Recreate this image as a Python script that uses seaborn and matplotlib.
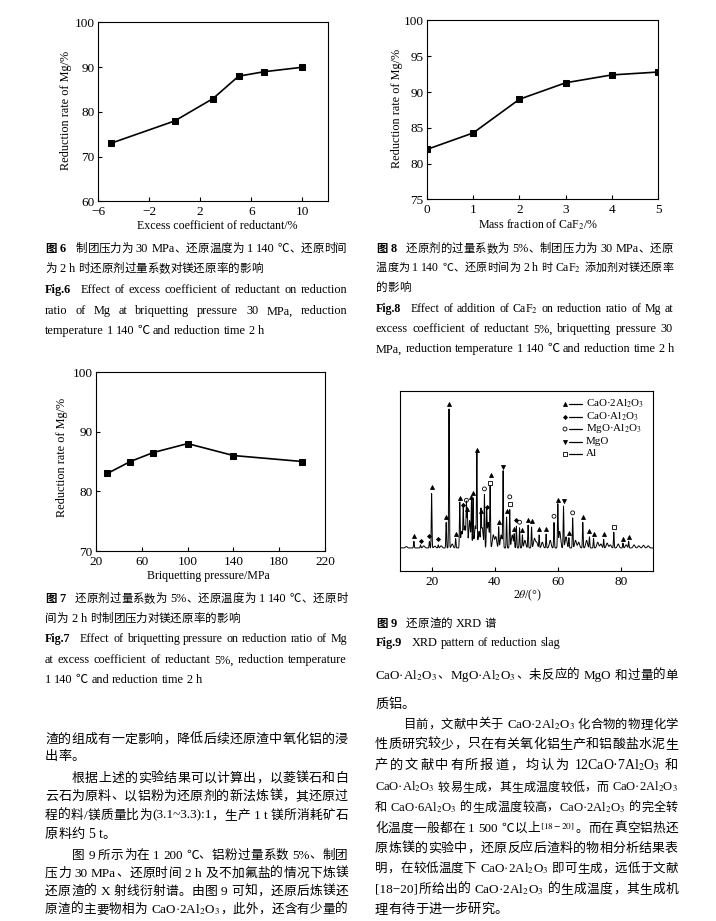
import numpy as np
import pandas as pd
import matplotlib
matplotlib.use("Agg")
import matplotlib.pyplot as plt
import seaborn as sns

# ---------------- data ----------------
excess_coef = [-5, 0, 3, 5, 7, 10]
rate_excess = [73, 78, 83, 88, 89, 90]

caf2_frac = [0, 1, 2, 3, 4, 5]
rate_caf2 = [82.0, 84.3, 89.0, 91.3, 92.4, 92.8]

pressure = [30, 50, 70, 100, 140, 200]
rate_pressure = [83.0, 85.0, 86.5, 88.0, 86.0, 85.0]

# XRD main peaks: position (2theta), top intensity
xrd_peak_pos = [14.4, 16.5, 19.3, 20.0, 22.1, 24.6, 25.5, 27.6, 28.9, 30.0, 31.0, 31.3,
                32.6, 33.1, 34.3, 35.6, 36.7, 37.4, 38.5, 41.2, 42.6, 43.7, 44.7, 46.1,
                46.8, 47.8, 48.7, 50.5, 51.6, 54.0, 56.2, 58.7, 59.9, 61.7, 63.4, 64.6,
                67.8, 69.9, 71.2, 74.4, 77.6, 80.5, 82.3]
xrd_peak_int = [16.5, 14.5, 16.5, 43.0, 14.5, 27.0, 90.0, 18.0, 37.5, 33.0, 36.0, 31.0,
                38.0, 40.0, 64.0, 30.0, 42.0, 32.0, 46.0, 24.5, 55.0, 30.0, 34.0, 20.0,
                25.0, 24.0, 20.0, 25.5, 24.5, 20.0, 20.5, 27.0, 36.5, 36.0, 18.5, 29.5,
                27.0, 19.0, 18.0, 17.5, 21.5, 15.5, 16.5]
# XRD minor humps (background texture)
xrd_minor_pos = [12.0, 17.5, 21.0, 23.0, 26.5, 29.5, 30.5, 32.0, 33.8, 35.0, 36.0, 37.9,
                 39.5, 40.3, 42.0, 45.5, 49.5, 52.5, 53.2, 55.0, 57.5, 60.5, 62.5, 65.5,
                 66.5, 69.0, 72.5, 73.5, 75.5, 76.5, 79.0, 81.5, 84.0, 85.5, 87.0, 88.5]
xrd_minor_int = [13.6, 14.0, 13.8, 14.0, 15.0, 22.0, 25.0, 28.0, 25.0, 22.0, 24.0, 27.0,
                 20.0, 19.0, 20.0, 20.0, 17.0, 18.0, 16.0, 16.0, 17.0, 22.0, 19.0, 17.0,
                 16.0, 17.0, 16.0, 15.0, 15.5, 14.5, 15.0, 14.5, 14.5, 14.0, 14.3, 14.0]
xrd_baseline = 12.8

phase_names = ["CaO·2Al$_2$O$_3$", "CaO·Al$_2$O$_3$", "MgO·Al$_2$O$_3$", "MgO", "Al"]
phase_x = [
    [14.4, 20.0, 24.5, 25.5, 27.6, 28.9, 31.2, 32.6, 33.1, 34.3, 35.6, 38.7, 41.2, 43.7,
     46.1, 48.7, 50.5, 51.6, 54.0, 56.2, 59.9, 63.4, 67.8, 69.9, 71.2, 74.4, 80.5, 82.3],
    [16.5, 19.3, 22.1, 30.0, 37.4, 46.8],
    [31.0, 36.7, 44.7, 47.8, 58.7, 64.6],
    [42.6, 61.7],
    [38.5, 44.7, 77.6],
]
phase_y = [
    [19.3, 46.8, 30.1, 93.0, 20.4, 40.8, 34.5, 41.2, 43.4, 67.2, 33.4, 53.2, 27.5, 33.4,
     23.4, 23.0, 28.6, 27.6, 23.2, 23.6, 39.3, 21.2, 30.1, 22.1, 20.8, 20.4, 17.6, 18.9],
    [16.5, 19.3, 17.6, 36.7, 35.3, 28.6],
    [39.3, 45.6, 41.2, 27.1, 30.4, 32.3],
    [57.9, 39.0],
    [49.0, 37.1, 24.5],
]
phase_markers = ["^", "D", "o", "v", "s"]

# ---------------- setup ----------------
sns.set_theme(style="ticks")
plt.rcParams["font.family"] = ["Liberation Serif", "Noto Sans CJK SC", "DejaVu Sans"]
plt.rcParams["mathtext.fontset"] = "stix"
plt.rcParams["axes.unicode_minus"] = True

W, H = 716, 921
fig = plt.figure(figsize=(W / 100, H / 100), dpi=100)
fig.patch.set_facecolor("white")
renderer = fig.canvas.get_renderer()


def add_ax(l, t, r, b):
    ax = fig.add_axes([l / W, 1 - b / H, (r - l) / W, (b - t) / H])
    ax.set_facecolor("white")
    for s in ax.spines.values():
        s.set_visible(True)
        s.set_color("black")
        s.set_linewidth(0.8)
    ax.tick_params(direction="in", length=3, width=0.8, colors="black",
                   labelsize=9.5, top=False, right=False)
    ax.tick_params(axis="x", pad=3.5)
    ax.tick_params(axis="y", pad=2.5)
    ax.grid(False)
    return ax


def labels(ax, xl, yl, xpos, ypos):
    ax.set_xlabel(xl, fontsize=8.6, color="black")
    ax.xaxis.set_label_coords(*xpos)
    ax.xaxis.label.set_va("center")
    if yl:
        ax.set_ylabel(yl, fontsize=8.8, color="black")
        ax.yaxis.set_label_coords(*ypos)
        ax.yaxis.label.set_va("center")
    else:
        ax.set_ylabel("")


line_kw = dict(color="black", marker="s", markersize=4.2, linewidth=1.2,
               markeredgecolor="black", markerfacecolor="black")

# Fig 6
ax6 = add_ax(98, 22.5, 328, 201.5)
sns.lineplot(data=pd.DataFrame({"x": excess_coef, "y": rate_excess}), x="x", y="y",
             ax=ax6, **line_kw)
ax6.set_xlim(-6, 12)
ax6.set_ylim(60, 100)
ax6.set_xticks([-6, -2, 2, 6, 10])
ax6.set_yticks([60, 70, 80, 90, 100])
labels(ax6, "Excess coefficient of reductant/%", "Reduction rate of Mg/%",
       (0.517, -0.137), (-0.139, 0.51))

# Fig 8
ax8 = add_ax(427, 20.5, 658, 199.5)
sns.lineplot(data=pd.DataFrame({"x": caf2_frac, "y": rate_caf2}), x="x", y="y",
             ax=ax8, **line_kw)
ax8.set_xlim(0, 5)
ax8.set_ylim(75, 100)
ax8.set_xticks([0, 1, 2, 3, 4, 5])
ax8.set_yticks([75, 80, 85, 90, 95, 100])
labels(ax8, "Mass fraction of CaF$_2$/%", "Reduction rate of Mg/%",
       (0.48, -0.142), (-0.13, 0.51))

# Fig 7
ax7 = add_ax(96, 372, 325, 551)
sns.lineplot(data=pd.DataFrame({"x": pressure, "y": rate_pressure}), x="x", y="y",
             ax=ax7, **line_kw)
ax7.set_xlim(20, 220)
ax7.set_ylim(70, 100)
ax7.set_xticks([20, 60, 100, 140, 180, 220])
ax7.set_yticks([70, 80, 90, 100])
labels(ax7, "Briquetting pressure/MPa", "Reduction rate of Mg/%",
       (0.489, -0.14), (-0.148, 0.525))

# Fig 9 (XRD)
ax9 = add_ax(400, 391, 653, 571)
tt = np.linspace(10, 90, 3000)
inten = np.full_like(tt, xrd_baseline)
for p, h in zip(xrd_peak_pos, xrd_peak_int):
    inten += (h - xrd_baseline) * np.exp(-0.5 * ((tt - p) / 0.11) ** 2)
for p, h in zip(xrd_minor_pos, xrd_minor_int):
    inten += (h - xrd_baseline) * np.exp(-0.5 * ((tt - p) / 0.28) ** 2)
sns.lineplot(data=pd.DataFrame({"t": tt, "i": inten}), x="t", y="i", ax=ax9,
             color="black", linewidth=0.7)
for mk, xs, ys in zip(phase_markers, phase_x, phase_y):
    ax9.scatter(xs, ys, marker=mk, s=8 if mk != "D" else 4,
                facecolors="black" if mk in "^Dv" else "none",
                edgecolors="black", linewidths=0.6, zorder=3)
ax9.set_xlim(10, 90)
ax9.set_ylim(0, 100)
ax9.set_xticks([20, 40, 60, 80])
ax9.set_yticks([])
labels(ax9, r"2$\theta$/(°)", None, (0.506, -0.133), None)

# legend drawn by hand in axes fraction
leg_rows = [404, 417, 429, 442, 454]
for mk, name, yy in zip(phase_markers, phase_names, leg_rows):
    ya = (571 - yy) / 180
    ax9.scatter([(565 - 400) / 253], [ya], transform=ax9.transAxes, marker=mk,
                s=8 if mk != "D" else 4,
                facecolors="black" if mk in "^Dv" else "none",
                edgecolors="black", linewidths=0.6, zorder=3, clip_on=False)
    ax9.plot([(569 - 400) / 253, (582 - 400) / 253], [ya, ya], transform=ax9.transAxes,
             color="black", linewidth=0.9)
    ax9.text((586 - 400) / 253, ya + 0.004, name, transform=ax9.transAxes, fontsize=7.9,
             va="center", ha="left", color="black")


# ---------------- text layout ----------------
def tokenize(s):
    toks = []
    cur = ""
    sp = 0
    math = False
    for c in s:
        if math:
            cur += c
            if c == "$":
                math = False
            continue
        if c == "$":
            cur += c
            math = True
            continue
        if c == " ":
            if cur:
                toks.append([cur, sp])
                cur = ""
                sp = 0
            sp += 1
            continue
        if ord(c) < 128 or c in "·°−":
            cur += c
        else:
            if cur:
                toks.append([cur, sp])
                cur = ""
                sp = 0
            toks.append([c, sp])
            sp = 0
    if cur:
        toks.append([cur, sp])
    return toks


def tline(x0, yc, segs, x1=None, size=9.5, lat=1.0):
    toks = []
    for s, w in segs:
        for t, sp in tokenize(s):
            toks.append((t, sp, w))
    em = size * 100 / 72
    yb = yc + 0.36 * em
    objs = []
    for t, sp, w in toks:
        fs = size * lat if ord(t[0]) < 128 else size
        o = fig.text(0, 1 - yb / H, t, fontsize=fs, fontweight=w, va="baseline",
                     ha="left", color="black")
        objs.append((o, fs, sp))

    def measure(scale):
        ws = []
        for o, fs, sp in objs:
            o.set_fontsize(fs * scale)
            ws.append(o.get_window_extent(renderer).width)
        return ws

    ws = measure(1.0)
    space = 0.25 * em * lat
    nat = sum(ws) + sum(sp * space for _, _, sp in objs[1:])
    if x1 is not None and nat > (x1 - x0):
        sc = (x1 - x0) / nat * 0.99
        ws = measure(sc)
        space *= sc
        nat = sum(ws) + sum(sp * space for _, _, sp in objs[1:])
    extra = 0.0
    if x1 is not None and len(objs) > 1:
        extra = max(0.0, (x1 - x0 - nat) / (len(objs) - 1))
    x = x0
    for i, (o, fs, sp) in enumerate(objs):
        if i > 0:
            x += sp * space + extra
        o.set_x(x / W)
        x += ws[i]


N = "normal"
B = "bold"
cs = 8.3   # Chinese caption size
es = 8.8   # English caption size
cl = 1.08  # latin scale in Chinese captions

# Fig 6 caption
tline(45, 248, [("图 6", B), ("   制团压力为 30 MPa、还原温度为 1 140 ℃、还原时间", N)], 347, cs, cl)
tline(45, 268, [("为 2 h 时还原剂过量系数对镁还原率的影响", N)], None, cs, cl)
tline(45, 289, [("Fig.6", B), ("   Effect of excess coefficient of reductant on reduction", N)], 347, es)
tline(45, 310, [("ratio of Mg at briquetting pressure 30 MPa, reduction", N)], 347, es)
tline(45, 330, [("temperature 1 140 ℃ and reduction time 2 h", N)], None, es)

# Fig 8 caption
tline(376, 248, [("图 8", B), ("   还原剂的过量系数为 5%、制团压力为 30 MPa、还原", N)], 673, cs, cl)
tline(376, 267, [("温度为 1 140 ℃、还原时间为 2 h 时 CaF$_2$ 添加剂对镁还原率", N)], 673, cs, cl)
tline(376, 287, [("的影响", N)], None, cs, cl)
tline(376, 308, [("Fig.8", B), ("   Effect of addition of CaF$_2$ on reduction ratio of Mg at", N)], 673, es)
tline(376, 328, [("excess coefficient of reductant 5%, briquetting pressure 30", N)], 673, es)
tline(376, 348, [("MPa, reduction temperature 1 140 ℃ and reduction time 2 h", N)], None, es)

# Fig 7 caption
tline(45, 598, [("图 7", B), ("   还原剂过量系数为 5%、还原温度为 1 140 ℃、还原时", N)], 347, cs, cl)
tline(45, 618, [("间为 2 h 时制团压力对镁还原率的影响", N)], None, cs, cl)
tline(45, 638, [("Fig.7", B), ("   Effect of briquetting pressure on reduction ratio of Mg", N)], 347, es)
tline(45, 659, [("at excess coefficient of reductant 5%, reduction temperature", N)], 347, es)
tline(45, 679, [("1 140 ℃ and reduction time 2 h", N)], None, es)

# Fig 9 caption
tline(376, 623, [("图 9", B), ("   还原渣的 XRD 谱", N)], None, cs, cl)
tline(376, 642, [("Fig.9", B), ("   XRD pattern of reduction slag", N)], None, es)

# left column body
bs = 9.5
bl = 1.04
L0, LI, LR = 45, 72, 348
tline(L0, 738, [("渣的组成有一定影响，降低后续还原渣中氧化铝的浸", N)], LR, bs, bl)
tline(L0, 755, [("出率。", N)], None, bs, bl)
tline(LI, 777, [("根据上述的实验结果可以计算出，以菱镁石和白", N)], LR, bs, bl)
tline(L0, 795, [("云石为原料、以铝粉为还原剂的新法炼镁，其还原过", N)], LR, bs, bl)
tline(L0, 814, [("程的料/镁质量比为(3.1~3.3):1，生产 1 t 镁所消耗矿石", N)], LR, bs, bl)
tline(L0, 833, [("原料约 5 t。", N)], None, bs, bl)
tline(LI, 854, [("图 9 所示为在 1 200 ℃、铝粉过量系数 5%、制团", N)], LR, bs, bl)
tline(L0, 872, [("压力 30 MPa、还原时间 2 h 及不加氟盐的情况下炼镁", N)], LR, bs, bl)
tline(L0, 890, [("还原渣的 X 射线衍射谱。由图 9 可知，还原后炼镁还", N)], LR, bs, bl)
tline(L0, 908, [("原渣的主要物相为 CaO·2Al$_2$O$_3$，此外，还含有少量的", N)], LR, bs, bl)

# right column body
R0, RI, RR = 375, 403, 678
tline(R0, 674, [("CaO·Al$_2$O$_3$、MgO·Al$_2$O$_3$、未反应的 MgO 和过量的单", N)], RR, bs, bl)
tline(R0, 703, [("质铝。", N)], None, bs, bl)
tline(RI, 723, [("目前，文献中关于 CaO·2Al$_2$O$_3$ 化合物的物理化学", N)], RR, bs, bl)
tline(R0, 743, [("性质研究较少，只在有关氧化铝生产和铝酸盐水泥生", N)], RR, bs, bl)
tline(R0, 764, [("产的文献中有所报道，均认为 12CaO·7Al$_2$O$_3$ 和", N)], RR, bs, bl)
tline(R0, 786, [("CaO·Al$_2$O$_3$ 较易生成，其生成温度较低，而 CaO·2Al$_2$O$_3$", N)], RR, bs, bl)
tline(R0, 806, [("和 CaO·6Al$_2$O$_3$ 的生成温度较高，CaO·2Al$_2$O$_3$ 的完全转", N)], RR, bs, bl)
tline(R0, 827, [("化温度一般都在 1 500 ℃以上$^{[18-20]}$。而在真空铝热还", N)], RR, bs, bl)
tline(R0, 847, [("原炼镁的实验中，还原反应后渣料的物相分析结果表", N)], RR, bs, bl)
tline(R0, 867, [("明，在较低温度下 CaO·2Al$_2$O$_3$ 即可生成，远低于文献", N)], RR, bs, bl)
tline(R0, 888, [("[18−20]所给出的 CaO·2Al$_2$O$_3$ 的生成温度，其生成机", N)], RR, bs, bl)
tline(R0, 908, [("理有待于进一步研究。", N)], None, bs, bl)

fig.savefig("out.png", dpi=100, facecolor="white")
